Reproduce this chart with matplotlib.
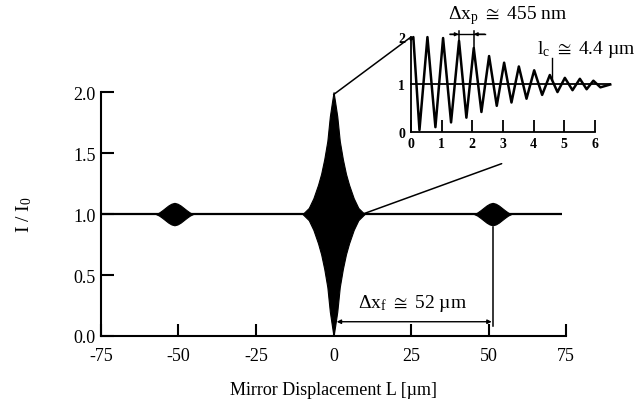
import matplotlib
matplotlib.use("Agg")
import matplotlib.pyplot as plt
from matplotlib.patches import ConnectionPatch
import numpy as np

plt.rcParams['font.family'] = ['Liberation Serif', 'DejaVu Serif']
plt.rcParams['mathtext.fontset'] = 'stix'

# ---- main trace: envelope of the interferogram (upper envelope = 1 + amp) ----
center_x = [-10, -8, -6.5, -5, -4, -3, -2, -1.2, -0.5, 0, 0.5, 1.2, 2, 3, 4, 5, 6.5, 8, 10]
center_amp = [0, 0.05, 0.13, 0.24, 0.33, 0.45, 0.6, 0.8, 0.92, 1.0, 0.92, 0.8, 0.6, 0.45, 0.33, 0.24, 0.13, 0.05, 0]
left_x = [-57.3, -56.3, -55.3, -54.3, -53.3, -52.3, -51.3, -50.3, -49.3, -48.3, -47.3, -46.3, -45.3]
right_x = [45.3, 46.3, 47.3, 48.3, 49.3, 50.3, 51.3, 52.3, 53.3, 54.3, 55.3, 56.3, 57.3]
side_amp = [0, 0.012, 0.03, 0.05, 0.07, 0.085, 0.092, 0.085, 0.07, 0.05, 0.03, 0.012, 0]
baseline_x = [-75, 73.5]
baseline_y = [1.0, 1.0]

x_ticks = [-75, -50, -25, 0, 25, 50, 75]
x_tick_labels = ['-75', '-50', '-25', '0', '25', '50', '75']
y_ticks = [0.0, 0.5, 1.0, 1.5, 2.0]
y_tick_labels = ['0.0', '0.5', '1.0', '1.5', '2.0']

# ---- inset: resolved fringes (peaks and troughs) ----
inset_x = [0.0, 0.08, 0.28, 0.54, 0.80, 1.05, 1.31, 1.57, 1.81, 2.05, 2.30, 2.55, 2.80,
           3.04, 3.28, 3.52, 3.77, 4.02, 4.28, 4.53, 4.78, 5.02, 5.27, 5.51, 5.73, 5.95, 6.18, 6.5]
inset_y = [1.95, 2.0, 0.04, 2.0, 0.1, 1.98, 0.2, 1.92, 0.3, 1.77, 0.42, 1.6, 0.55,
           1.46, 0.62, 1.38, 0.7, 1.3, 0.78, 1.2, 0.84, 1.14, 0.88, 1.12, 0.9, 1.08, 0.94, 1.0]
inset_x_ticks = [0, 1, 2, 3, 4, 5, 6]
inset_y_ticks = [0, 1, 2]

fig = plt.figure(figsize=(6.39, 4.14), dpi=100)
ax = fig.add_axes([0.158, 0.186, 0.728, 0.589])

ax.plot(baseline_x, baseline_y, color='black', lw=1.6, solid_capstyle='butt')
for xs, amps in [(center_x, center_amp), (left_x, side_amp), (right_x, side_amp)]:
    xs = np.asarray(xs, float)
    a = np.asarray(amps, float)
    ax.fill_between(xs, 1 - a, 1 + a, color='black', lw=0.8, edgecolor='black')

ax.set_xlim(-75, 75)
ax.set_ylim(0, 2)
ax.set_xticks(x_ticks)
ax.set_xticklabels(x_tick_labels)
ax.set_yticks(y_ticks)
ax.set_yticklabels(y_tick_labels)
for s in ['top', 'right']:
    ax.spines[s].set_visible(False)
for s in ['left', 'bottom']:
    ax.spines[s].set_linewidth(1.5)
ax.tick_params(axis='both', direction='in', length=9, width=1.5, labelsize=13)
ax.tick_params(axis='x', pad=8)
ax.tick_params(axis='y', pad=4)
ax.set_xlabel('Mirror Displacement L [µm]', fontsize=13, labelpad=12)
ax.set_ylabel(r'I / I$_\mathregular{0}$', fontsize=14, labelpad=28)

# Delta x_f annotation
ax.plot([51.3, 51.3], [0.083, 0.89], color='black', lw=1.1)
ax.annotate('', xy=(1.0, 0.117), xytext=(51.0, 0.117),
            arrowprops=dict(arrowstyle='<|-|>', color='black', lw=1.0,
                            mutation_scale=6, shrinkA=0, shrinkB=0))
ax.text(25.5, 0.275, r'Δx$_\mathregular{f}\ \cong\ $52 µm', fontsize=14, ha='center', va='center')

# ---- inset axes ----
axi = fig.add_axes([0.643, 0.679, 0.288, 0.229])
axi.plot([0, 6.5], [1, 1], color='black', lw=1.3, clip_on=False)
axi.plot(inset_x, inset_y, color='black', lw=1.8, clip_on=False)
axi.set_xlim(0, 6)
axi.set_ylim(0, 2)
axi.set_xticks(inset_x_ticks)
axi.set_yticks(inset_y_ticks)
axi.patch.set_alpha(0)
for s in ['top', 'right']:
    axi.spines[s].set_visible(False)
for s in ['left', 'bottom']:
    axi.spines[s].set_linewidth(1.3)
axi.tick_params(axis='x', direction='in', length=9, width=1.3, labelsize=10, pad=4)
axi.tick_params(axis='y', direction='in', length=0, width=1.3, labelsize=10, pad=4)
for lab in axi.get_xticklabels() + axi.get_yticklabels():
    lab.set_fontweight('bold')

# Delta x_p annotation
axi.plot([1.27, 2.41], [2.06, 2.06], color='black', lw=1.0, clip_on=False)
axi.plot([1.56, 1.56], [1.66, 2.13], color='black', lw=1.1, clip_on=False)
axi.plot([2.05, 2.05], [1.66, 2.13], color='black', lw=1.1, clip_on=False)
axi.annotate('', xy=(1.56, 2.06), xytext=(1.27, 2.06), annotation_clip=False,
             arrowprops=dict(arrowstyle='-|>', color='black', lw=1.0, mutation_scale=5,
                             shrinkA=0, shrinkB=0))
axi.annotate('', xy=(2.05, 2.06), xytext=(2.41, 2.06), annotation_clip=False,
             arrowprops=dict(arrowstyle='-|>', color='black', lw=1.0, mutation_scale=5,
                             shrinkA=0, shrinkB=0))
axi.text(3.15, 2.48, r'Δx$_\mathregular{p}\ \cong\ $455 nm', fontsize=14, ha='center', va='center',
         clip_on=False)
# l_c annotation
axi.plot([4.6, 4.6], [1.12, 1.55], color='black', lw=1.0, clip_on=False)
axi.text(4.1, 1.75, r'l$_\mathregular{c}\ \cong\ $4.4 µm', fontsize=14, ha='left', va='center',
         clip_on=False)

# zoom connector lines
for pa, pb in [((0.0, 1.98), (0.0, 2.0)), ((9.4, 1.0), (2.96, -0.67))]:
    cp = ConnectionPatch(xyA=pa, coordsA=ax.transData, xyB=pb, coordsB=axi.transData,
                         color='black', lw=1.1)
    fig.add_artist(cp)

fig.savefig('out.png', dpi=100)
